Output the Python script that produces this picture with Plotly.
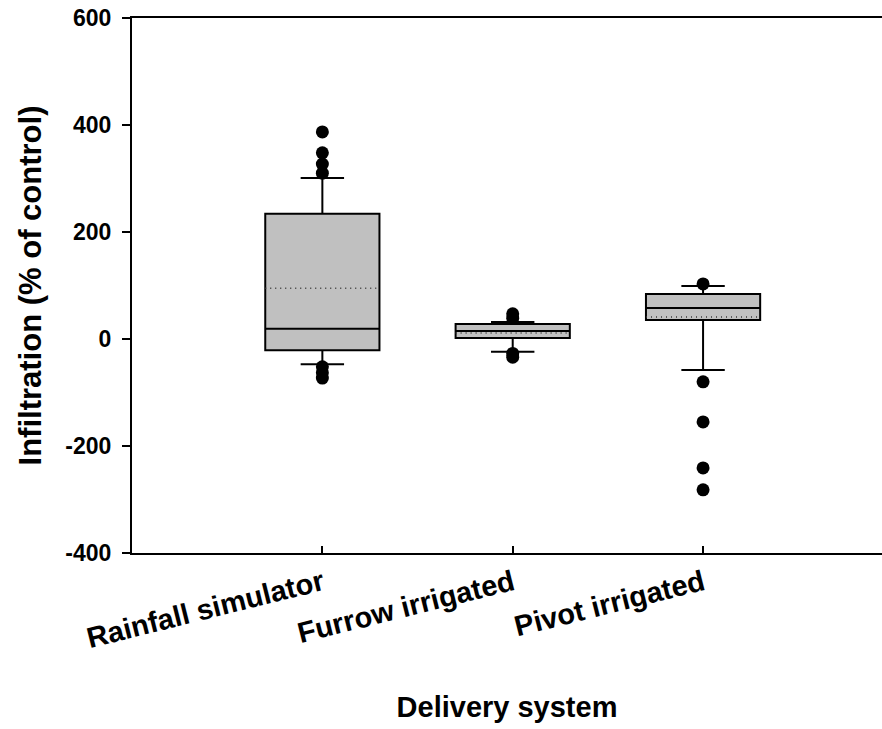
import plotly.graph_objects as go

categories = ["Rainfall simulator", "Furrow irrigated", "Pivot irrigated"]
positions = [1, 2, 3]
q1 = [-21, 2, 35.5]
median = [19, 15, 58]
q3 = [234, 28, 84]
mean = [95, 11, 41]
lower_whisker = [-47, -24, -58]
upper_whisker = [301, 32, 99]
outliers = [
    [387, 348, 327, 310, -52, -63, -73],
    [47, 39, -27, -34],
    [103, -80, -155, -241, -282],
]
y_ticks = [-400, -200, 0, 200, 400, 600]
y_tick_labels = ["-400", "-200", "0", "200", "400", "600"]

BOX_W = 0.6
FONT = "Liberation Sans, Arial, sans-serif"

fig = go.Figure()

fig.add_trace(go.Box(
    x=positions, q1=q1, median=median, q3=q3,
    lowerfence=lower_whisker, upperfence=upper_whisker,
    width=BOX_W, boxpoints=False,
    fillcolor="#C0C0C0", line=dict(color="black", width=2),
    whiskerwidth=0, showlegend=False, hoverinfo="skip",
))

# whisker caps
for fence in (lower_whisker, upper_whisker):
    fig.add_trace(go.Scatter(
        x=positions, y=fence, mode="markers",
        marker=dict(symbol="line-ew", size=31, line=dict(color="black", width=2)),
        showlegend=False, hoverinfo="skip",
    ))

# mean (dotted)
for p, m in zip(positions, mean):
    fig.add_trace(go.Scatter(
        x=[p - BOX_W / 2, p + BOX_W / 2], y=[m, m], mode="lines",
        line=dict(color="#333333", width=1.5, dash="1px,4px"),
        showlegend=False, hoverinfo="skip",
    ))

# outliers
for p, outs in zip(positions, outliers):
    fig.add_trace(go.Scatter(
        x=[p] * len(outs), y=outs, mode="markers",
        marker=dict(color="black", size=13),
        showlegend=False, hoverinfo="skip",
    ))

fig.update_layout(
    width=882, height=729,
    margin=dict(l=132, r=0, t=18, b=176),
    paper_bgcolor="white", plot_bgcolor="white",
    font=dict(family=FONT, color="black"),
    xaxis=dict(
        range=[0, 3.94], tickvals=positions, ticktext=categories,
        tickangle=-14, ticks="inside", ticklen=7, tickwidth=2, tickcolor="black",
        showline=True, linewidth=2, linecolor="black", mirror=True,
        showgrid=False, zeroline=False, automargin=False,
        tickfont=dict(size=29, family=FONT, weight="bold"),
        title=dict(text="Delivery system", font=dict(size=29, family=FONT, weight="bold"), standoff=44),
    ),
    yaxis=dict(
        range=[-400, 600], tickvals=y_ticks, ticktext=y_tick_labels,
        ticks="outside", ticklen=8, tickwidth=2, tickcolor="black",
        ticklabelstandoff=6, ticklabeloverflow="allow",
        showline=True, linewidth=2, linecolor="black",
        showgrid=False, zeroline=False, automargin=False,
        tickfont=dict(size=23, family=FONT, weight="bold"),
        title=dict(text="Infiltration (% of control)", font=dict(size=31, family=FONT, weight="bold"), standoff=15),
    ),
)

fig.write_html("out.html", config={"displayModeBar": False},
               post_script="document.body.style.margin='0';")
